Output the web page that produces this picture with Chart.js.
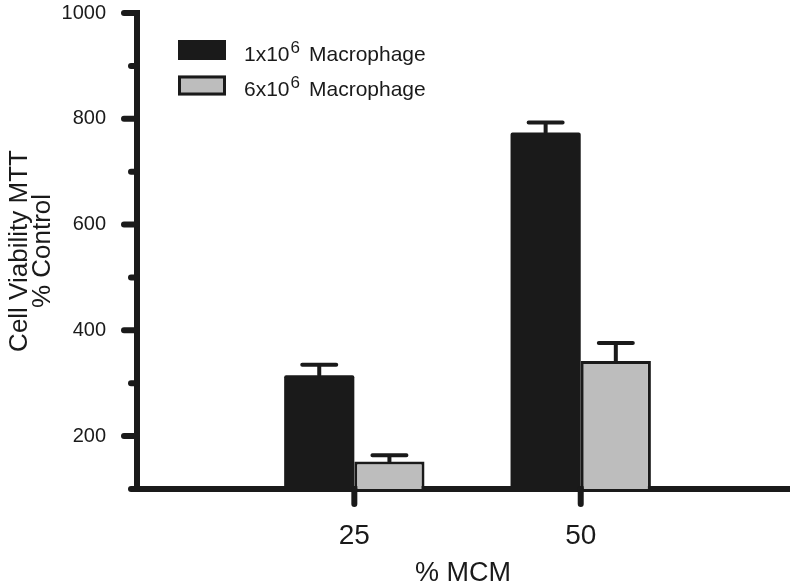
<!DOCTYPE html>
<html>
<head>
<meta charset="utf-8">
<script src="https://cdn.jsdelivr.net/npm/chart.js@4/dist/chart.umd.min.js"></script>
<style>
    html, body { margin: 0; padding: 0; background: #fff; }
    #wrap { width: 792px; height: 587px; }
</style>
</head>
<body>
<div id="wrap"><canvas id="mttChart"></canvas></div>
<script>
// data
const doses = [25, 50];                 // % MCM
const lowMac = [315, 774];              // 1x10^6 macrophage
const lowMacErr = [20, 19];
const highMac = [152, 342];             // 6x10^6 macrophage
const highMacErr = [12, 34];
const yTicks = [100, 200, 300, 400, 500, 600, 700, 800, 900, 1000];
const legendBase = ['1x10', '6x10'];
const legendExp = ['6', '6'];
const legendTail = 'Macrophage';

const INK = '#1a1a1a';
const GREY = '#bdbdbd';
const TEXT = '#1a1a1a';
const FONT = "'Liberation Sans', Arial, Helvetica, sans-serif";

// error bars (upper only, like the original)
const errorBars = {
    id: 'errorBars',
    afterDatasetsDraw(chart) {
        const ctx = chart.ctx;
        const y = chart.scales.y;
        const errs = [lowMacErr, highMacErr];
        const vals = [lowMac, highMac];
        ctx.save();
        ctx.strokeStyle = INK;
        ctx.lineWidth = 4;
        ctx.lineCap = 'round';
        chart.data.datasets.forEach((ds, i) => {
            chart.getDatasetMeta(i).data.forEach((bar, j) => {
                const top = y.getPixelForValue(vals[i][j] + errs[i][j]);
                ctx.beginPath();
                ctx.moveTo(bar.x, bar.y);
                ctx.lineTo(bar.x, top);
                ctx.moveTo(bar.x - 17, top);
                ctx.lineTo(bar.x + 17, top);
                ctx.stroke();
            });
        });
        ctx.restore();
    }
};

// tick marks: long at labelled values, short between, plus x ticks below axis
const tickMarks = {
    id: 'tickMarks',
    afterDraw(chart) {
        const ctx = chart.ctx;
        const {left, bottom} = chart.chartArea;
        const y = chart.scales.y;
        const x = chart.scales.x;
        ctx.save();
        ctx.strokeStyle = INK;
        ctx.lineWidth = 6;
        ctx.lineCap = 'round';
        yTicks.forEach(v => {
            const py = y.getPixelForValue(v);
            const len = v % 200 === 0 ? 13 : 6;
            ctx.beginPath();
            ctx.moveTo(left - len, py);
            ctx.lineTo(left, py);
            ctx.stroke();
        });
        doses.forEach(d => {
            const px = x.getPixelForValue(d);
            ctx.beginPath();
            ctx.moveTo(px, bottom);
            ctx.lineTo(px, bottom + 15);
            ctx.stroke();
        });
        ctx.restore();
    }
};

// legend with a real superscript
const supLegend = {
    id: 'supLegend',
    afterDraw(chart) {
        const ctx = chart.ctx;
        const {left, top} = chart.chartArea;
        ctx.save();
        chart.data.datasets.forEach((ds, i) => {
            const bx = left + 41;
            const by = top + 27 + i * 35.5;
            if (i === 0) {
                ctx.fillStyle = INK;
                ctx.fillRect(bx, by, 48, 20);
            } else {
                ctx.fillStyle = GREY;
                ctx.fillRect(bx, by, 48, 20);
                ctx.strokeStyle = INK;
                ctx.lineWidth = 3;
                ctx.strokeRect(bx + 1.5, by + 1.5, 45, 17);
            }
            const base = by + 20.5;
            let tx = left + 107;
            ctx.fillStyle = TEXT;
            ctx.textBaseline = 'alphabetic';
            ctx.font = '21px ' + FONT;
            ctx.fillText(legendBase[i], tx, base);
            tx += ctx.measureText(legendBase[i]).width + 1;
            ctx.font = '17px ' + FONT;
            ctx.fillText(legendExp[i], tx, base - 8);
            tx += ctx.measureText(legendExp[i]).width + 9;
            ctx.font = '21px ' + FONT;
            ctx.fillText(legendTail, tx, base);
        });
        ctx.restore();
    }
};

new Chart(document.getElementById('mttChart'), {
    type: 'bar',
    data: {
        datasets: [{
            label: '1x10\u2076 Macrophage',
            data: doses.map((d, i) => ({x: d, y: lowMac[i]})),
            backgroundColor: INK,
            borderWidth: 0,
            borderRadius: 2,
            borderSkipped: 'bottom'
        }, {
            label: '6x10\u2076 Macrophage',
            data: doses.map((d, i) => ({x: d, y: highMac[i]})),
            backgroundColor: GREY,
            borderColor: INK,
            borderWidth: 3,
            borderSkipped: false
        }]
    },
    options: {
        responsive: true,
        maintainAspectRatio: false,
        animation: false,
        categoryPercentage: 0.62,
        barPercentage: 1,
        layout: { autoPadding: false, padding: { top: 13, right: 3, left: 0, bottom: 0 } },
        plugins: {
            legend: { display: false },
            tooltip: { enabled: false }
        },
        scales: {
            x: {
                type: 'linear',
                offset: false,
                min: 1,
                max: 73,
                z: 1,
                afterBuildTicks: s => { s.ticks = doses.map(v => ({value: v})); },
                afterFit: s => { s.height = 98; s.paddingLeft = 0; s.paddingRight = 0; },
                grid: { display: false, drawTicks: false, offset: false },
                border: { display: true, color: INK, width: 6 },
                ticks: {
                    padding: 30,
                    color: TEXT,
                    font: { family: FONT, size: 28 },
                    callback: v => String(v)
                },
                title: {
                    display: true,
                    text: '% MCM',
                    color: TEXT,
                    font: { family: FONT, size: 27, lineHeight: 1 },
                    padding: { top: 0, bottom: 0 }
                }
            },
            y: {
                min: 100,
                max: 1000,
                z: 1,
                afterBuildTicks: s => { s.ticks = yTicks.map(v => ({value: v})); },
                afterFit: s => { s.width = 137; s.paddingTop = 0; s.paddingBottom = 0; },
                grid: { display: false, drawTicks: false },
                border: { display: true, color: INK, width: 6 },
                ticks: {
                    autoSkip: false,
                    padding: 31,
                    color: TEXT,
                    font: { family: FONT, size: 20 },
                    callback: v => (v % 200 === 0 ? String(v) : '')
                },
                title: {
                    display: true,
                    text: ['Cell Viability MTT', '% Control'],
                    color: TEXT,
                    font: { family: FONT, size: 26, lineHeight: '23px' },
                    padding: { top: 8, bottom: 0 }
                }
            }
        }
    },
    plugins: [errorBars, tickMarks, supLegend]
});
</script>
</body>
</html>
